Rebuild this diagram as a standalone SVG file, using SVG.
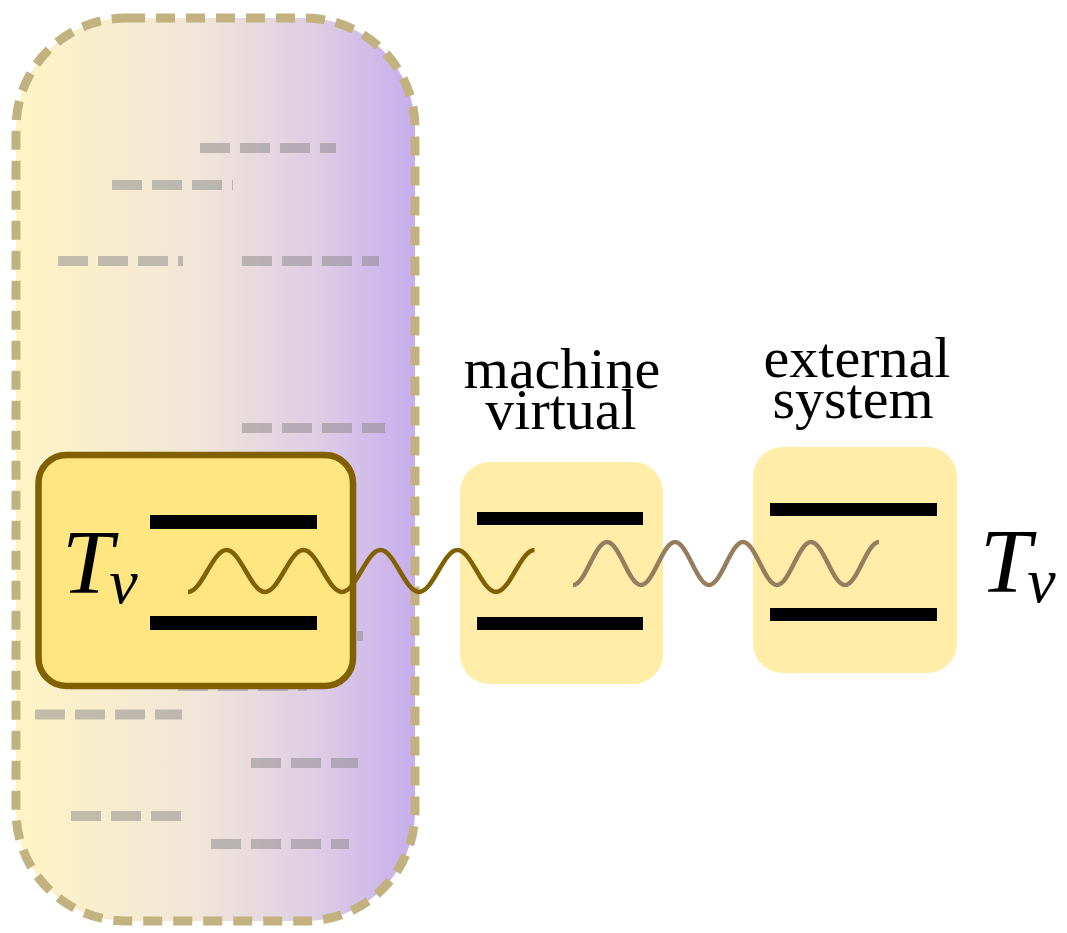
<svg xmlns="http://www.w3.org/2000/svg" width="1067" height="933" viewBox="0 0 1067 933">
  <defs>
    <linearGradient id="bg" x1="16" y1="0" x2="415" y2="0" gradientUnits="userSpaceOnUse">
      <stop offset="0" stop-color="#fff4c4"/>
      <stop offset="0.45" stop-color="#f1e6d8"/>
      <stop offset="0.75" stop-color="#dfcde4"/>
      <stop offset="1" stop-color="#c6aeec"/>
    </linearGradient>
    <style>
      .ghost { stroke: #888888; stroke-opacity: 0.5; stroke-width: 10; stroke-dasharray: 30 10; fill: none; }
      .bar { fill: #000000; }
      .label { font-family: "Liberation Serif", "DejaVu Serif", serif; font-size: 58px; fill: #000000; text-anchor: middle; }
      .math { font-family: "Liberation Serif", "DejaVu Serif", serif; font-style: italic; fill: #000000; }
      .wave { fill: none; stroke-width: 4.5; stroke-linecap: butt; }
    </style>
  </defs>

  <g id="container">
    <rect x="16" y="18" width="399" height="903" rx="110" ry="110" fill="url(#bg)"/>
    <g id="ghost-lines">
      <line class="ghost" x1="200" y1="148" x2="336" y2="148"/>
      <line class="ghost" x1="112" y1="185" x2="233" y2="185"/>
      <line class="ghost" x1="58" y1="261" x2="183" y2="261"/>
      <line class="ghost" x1="242" y1="261" x2="379" y2="261"/>
      <line class="ghost" x1="242" y1="428" x2="385" y2="428"/>
      <line class="ghost" x1="237" y1="636" x2="363" y2="636"/>
      <line class="ghost" x1="178" y1="686" x2="307" y2="686"/>
      <line class="ghost" x1="35" y1="714.5" x2="182" y2="714.5"/>
      <line class="ghost" x1="251" y1="763" x2="358" y2="763"/>
      <line class="ghost" x1="71" y1="816" x2="181" y2="816"/>
      <line class="ghost" x1="211" y1="844" x2="349" y2="844"/>
    </g>
    <rect x="16" y="18" width="399" height="903" rx="110" ry="110" fill="none" stroke="#c2b280" stroke-width="9" stroke-dasharray="19 11"/>
  </g>

  <g id="tv-system">
    <rect x="38.5" y="455" width="314.5" height="231" rx="28" ry="28" fill="#ffe680" stroke="#806000" stroke-width="6.5"/>
    <rect class="bar" x="150" y="515" width="167" height="14"/>
    <rect class="bar" x="150" y="616" width="167" height="14"/>
    <text class="math" x="62" y="593" font-size="92">T<tspan font-size="64" dx="-4" dy="10">v</tspan></text>
  </g>

  <g id="machine-virtual">
    <rect x="460" y="462" width="203" height="222" rx="30" ry="30" fill="#ffeda8"/>
    <rect class="bar" x="477" y="512" width="166" height="13"/>
    <rect class="bar" x="477" y="617" width="166" height="13"/>
    <text class="label" x="562" y="388">machine</text>
    <text class="label" x="561" y="429">virtual</text>
  </g>

  <g id="external-system">
    <rect x="753" y="447" width="204" height="226" rx="30" ry="30" fill="#ffeda8"/>
    <rect class="bar" x="770" y="503" width="167" height="13"/>
    <rect class="bar" x="770" y="608" width="167" height="13"/>
    <text class="label" x="857" y="377">external</text>
    <text class="label" x="853" y="418">system</text>
    <text class="math" x="980" y="592" font-size="92">T<tspan font-size="64" dx="-4" dy="10">v</tspan></text>
  </g>

  <g id="connectors">
    <path class="wave" stroke="#806000" d="M188,592 C202,592 212.5,550 226.5,550 C240.5,550 251,592 265,592 C279,592 289.5,550 303.5,550 C317.5,550 328,592 342,592 C356,592 366.5,550 380.5,550 C394.5,550 405,592 419,592 C433,592 443.5,550 457.5,550 C471.5,550 482,592 496,592 C510,592 520.5,550 534.5,550"/>
    <path class="wave" stroke="#967d5e" d="M573,585 C585.4,585 594.6,542 607,542 C619.4,542 628.6,585 641,585 C653.4,585 662.6,542 675,542 C687.4,542 696.6,585 709,585 C721.4,585 730.6,542 743,542 C755.4,542 764.6,585 777,585 C789.4,585 798.6,542 811,542 C823.4,542 832.6,585 845,585 C857.4,585 866.6,542 879,542"/>
  </g>
</svg>
